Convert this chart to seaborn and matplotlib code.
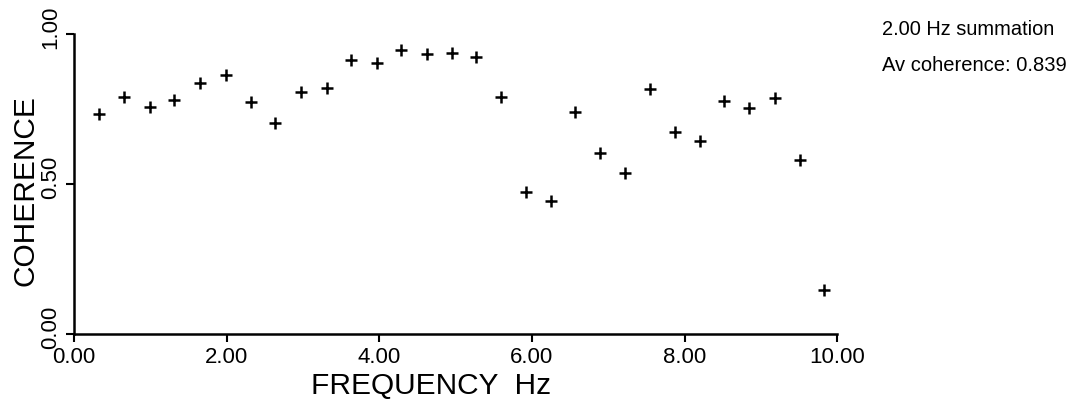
import matplotlib
matplotlib.use("Agg")
import matplotlib.pyplot as plt
import matplotlib.transforms as mtransforms
import seaborn as sns
import pandas as pd

# Coherence spectrum, one estimate per frequency bin
frequency_hz = [0.33, 0.655, 0.99, 1.31, 1.65, 1.99, 2.32, 2.64, 2.97, 3.31,
                3.63, 3.97, 4.29, 4.62, 4.95, 5.27, 5.60, 5.92, 6.25, 6.57,
                6.89, 7.22, 7.55, 7.88, 8.20, 8.52, 8.85, 9.18, 9.51, 9.83]
coherence = [0.733, 0.789, 0.756, 0.781, 0.836, 0.863, 0.772, 0.703, 0.806, 0.819,
             0.913, 0.903, 0.948, 0.933, 0.937, 0.922, 0.791, 0.472, 0.442, 0.741,
             0.602, 0.536, 0.817, 0.672, 0.644, 0.776, 0.752, 0.786, 0.581, 0.148]

x_ticks = [0, 2, 4, 6, 8, 10]
x_tick_labels = ["0.00", "2.00", "4.00", "6.00", "8.00", "10.00"]
y_ticks = [0.0, 0.5, 1.0]
y_tick_labels = ["0.00", "0.50", "1.00"]

summation_note = "2.00 Hz summation"
average_note = "Av coherence: 0.839"

df = pd.DataFrame({"freq": frequency_hz, "coh": coherence})

sns.set_theme(style="ticks")
plt.rcParams["font.family"] = ["Liberation Sans", "DejaVu Sans"]
plt.rcParams["text.color"] = "black"

fig = plt.figure(figsize=(10.72, 4.02), dpi=100)
ax = fig.add_axes([0.069, 0.1667, 0.712, 0.7463])

sns.scatterplot(data=df, x="freq", y="coh", marker="+", color="black",
                s=75, linewidth=1.8, ax=ax, legend=False)

ax.set_xlim(0, 10)
ax.set_ylim(0, 1)
ax.set_xticks(x_ticks)
ax.set_xticklabels(x_tick_labels, fontsize=16)
ax.set_yticks(y_ticks)
ax.set_yticklabels(y_tick_labels, fontsize=16, rotation=90, va="center")
ax.tick_params(axis="both", direction="out", length=6, width=1.5, color="black",
               labelcolor="black", pad=3)

# rotated y tick labels sit slightly above their ticks
lift = mtransforms.ScaledTranslation(0, 8 / 100, fig.dpi_scale_trans)
for lbl in ax.get_yticklabels():
    lbl.set_transform(lbl.get_transform() + lift)

for side in ("top", "right"):
    ax.spines[side].set_visible(False)
for side in ("left", "bottom"):
    ax.spines[side].set_linewidth(1.8)
    ax.spines[side].set_color("black")

ax.set_xlabel("FREQUENCY  Hz", fontsize=21.5, color="black")
ax.set_ylabel("COHERENCE", fontsize=21.5, color="black")
ax.xaxis.set_label_coords(0.4685, -0.122)
ax.yaxis.set_label_coords(-0.045, 0.48)

fig.text(0.823, 0.913, summation_note, fontsize=14.4, va="baseline", ha="left",
         color="black")
fig.text(0.823, 0.823, average_note, fontsize=14.5, va="baseline", ha="left",
         color="black")

fig.savefig("out.png", dpi=100, facecolor="white")
